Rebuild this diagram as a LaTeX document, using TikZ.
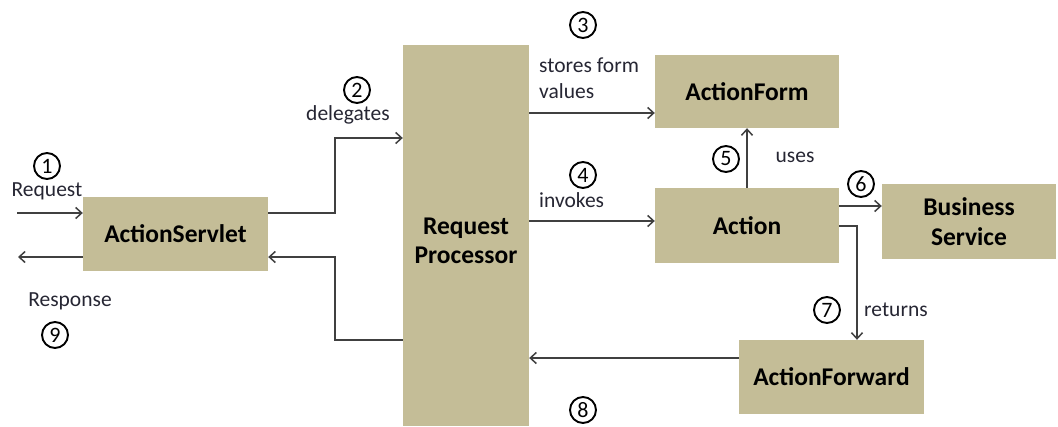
\documentclass[tikz,border=0pt]{standalone}
\usepackage{fontspec}
\setmainfont{Carlito}
\usetikzlibrary{arrows.meta}
\definecolor{tan}{HTML}{C4BD97}
\definecolor{linec}{HTML}{404040}
\definecolor{txt}{HTML}{262633}
\tikzset{
  box/.style={fill=tan, draw=none, inner sep=0pt, font=\bfseries\fontsize{25.5}{30}\selectfont, align=center, text=black},
  arr/.style={draw=linec, line width=1.5pt, -{Straight Barb[length=6pt,width=11pt,line width=1.5pt]}},
  lbl/.style={text=txt, inner sep=0pt, font=\fontsize{21.5}{26}\selectfont},
  num/.style={draw=black, circle, line width=1.9pt, minimum size=26pt, inner sep=0pt, font=\fontsize{22}{22}\selectfont, text=black}
}
\begin{document}
\begin{tikzpicture}[x=1pt,y=-1pt]
\useasboundingbox (0,0) rectangle (1058,426);
% boxes
\node[box, minimum width=185pt, minimum height=74pt] (AS) at (175.5,234) {ActionServlet};
\node[box, minimum width=126pt, minimum height=381pt, label={[font=\bfseries\fontsize{25.5}{29}\selectfont, align=center, yshift=-5pt]center:{Request\\Processor}}] (RP) at (466,235.5) {};
\node[box, minimum width=184pt, minimum height=73pt] (AF) at (747,91.5) {ActionForm};
\node[box, minimum width=184pt, minimum height=75pt] (AC) at (747,225.5) {Action};
\node[box, minimum width=174pt, minimum height=75pt] (BS) at (969,221.5) {Business\\Service};
\node[box, minimum width=185pt, minimum height=74pt] (FW) at (831.5,377) {ActionForward};
% free ends
\coordinate (reqin) at (17,213);
\coordinate (respout) at (18,257);
% connectors
\draw[arr] (reqin) -- (reqin -| AS.west);
\draw[arr] (respout -| AS.west) -- (respout);
\draw[arr] (AS.east |- 0,213) -| (335,138) -- (RP.west |- 0,138);
\draw[arr] (RP.west |- 0,340) -| (335,257) -- (AS.east |- 0,257);
\draw[arr] (RP.east |- 0,113) -- (AF.west |- 0,113);
\draw[arr] (RP.east |- 0,221) -- (AC.west |- 0,221);
\draw[arr] (AC.north) -- (AF.south);
\draw[arr] (AC.east |- 0,206) -- (BS.west |- 0,206);
\draw[arr] (AC.east |- 0,226) -| (FW.north -| 857,0);
\draw[arr] (FW.west |- 0,358) -- (RP.east |- 0,358);
% labels
\node[lbl] (lreq) at (47,191) {Request};
\node[lbl] (lresp) at (70,301) {Response};
\node[lbl] (ldel) at (348,115) {delegates};
\node[lbl, anchor=west, align=left] (lsto) at (539,78) {stores form\\values};
\node[lbl, anchor=west] (linv) at (539,200) {invokes};
\node[lbl] (luse) at (795,157) {uses};
\node[lbl, anchor=west] (lret) at (864,310) {returns};
% numbers
\node[num] (n1) at (47,166) {1};
\node[num] (n2) at (357,90) {2};
\node[num] (n3) at (583,25) {3};
\node[num] (n4) at (583,175) {4};
\node[num] (n5) at (726,159) {5};
\node[num] (n6) at (861,184) {6};
\node[num] (n7) at (827,310) {7};
\node[num] (n8) at (583,410) {8};
\node[num] (n9) at (55,335) {9};
\end{tikzpicture}
\end{document}
